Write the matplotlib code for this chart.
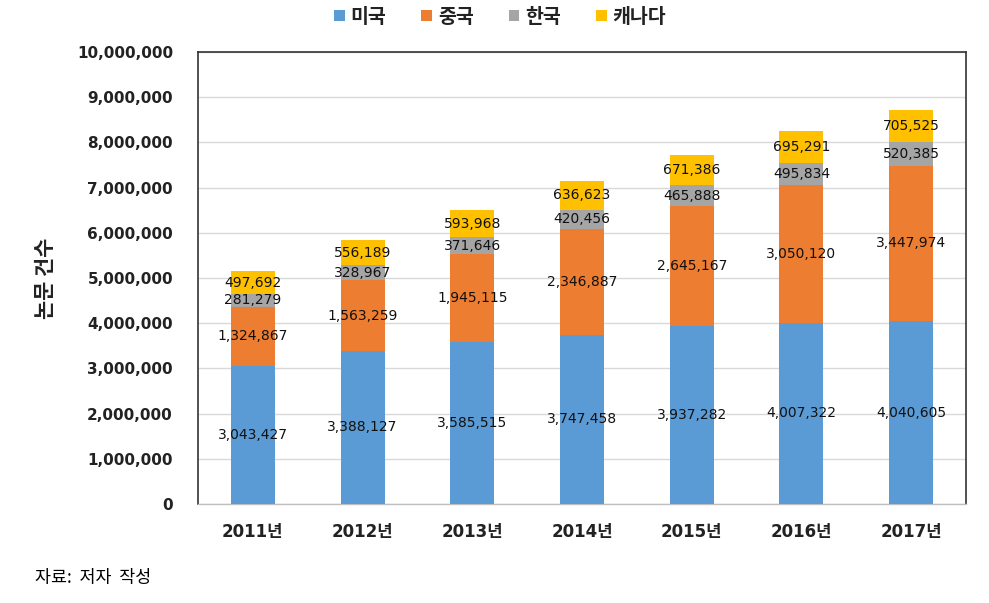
import matplotlib
matplotlib.use("Agg")
import matplotlib.pyplot as plt
import numpy as np

plt.rcParams['font.family'] = ['Noto Sans CJK KR', 'DejaVu Sans']
NUM_FONT = ['DejaVu Sans', 'Noto Sans CJK KR']

years = ['2011년', '2012년', '2013년', '2014년', '2015년', '2016년', '2017년']
series_names = ['미국', '중국', '한국', '캐나다']
usa = [3043427, 3388127, 3585515, 3747458, 3937282, 4007322, 4040605]
china = [1324867, 1563259, 1945115, 2346887, 2645167, 3050120, 3447974]
korea = [281279, 328967, 371646, 420456, 465888, 495834, 520385]
canada = [497692, 556189, 593968, 636623, 671386, 695291, 705525]
colors = ['#5B9BD5', '#ED7D31', '#A5A5A5', '#FFC000']

fig = plt.figure(figsize=(9.89, 6.03), dpi=100)
ax = fig.add_axes([198/989, 1 - 504/603, (966-198)/989, (504-52)/603])

x = np.arange(len(years))
bottom = np.zeros(len(years))
for name, vals, c in zip(series_names, [usa, china, korea, canada], colors):
    vals = np.array(vals, dtype=float)
    ax.bar(x, vals, 0.4, bottom=bottom, color=c, label=name, zorder=3)
    for xi, b, v in zip(x, bottom, vals):
        ax.text(xi, b + v / 2, f'{int(v):,}', ha='center', va='center',
                fontsize=10, color='#111111', zorder=4, family=NUM_FONT)
    bottom += vals

ax.set_xlim(-0.5, len(years) - 0.5)
ax.set_ylim(0, 10000000)
ax.set_yticks(np.arange(0, 10000001, 1000000))
ax.set_yticklabels([f'{v:,}' for v in range(0, 10000001, 1000000)],
                   fontsize=11, fontweight='bold', family=NUM_FONT, color='#222222')
ax.set_xticks(x)
ax.set_xticklabels(years, fontsize=12, fontweight='bold', family=NUM_FONT, color='#222222')
ax.tick_params(axis='both', length=0)
ax.tick_params(axis='y', pad=18)
ax.tick_params(axis='x', pad=14)
ax.yaxis.grid(True, color='#D9D9D9', linewidth=1, zorder=0)
ax.set_axisbelow(True)
for s in ['left', 'right', 'top']:
    ax.spines[s].set_color('#333333')
    ax.spines[s].set_linewidth(1.2)
ax.spines['bottom'].set_color('#BFBFBF')
ax.spines['bottom'].set_linewidth(1)

fig.text(45/989, 1 - 278/603, '논문 건수', rotation=90, ha='center', va='center',
         fontsize=15, fontweight='bold', color='#222222')

fig.legend(loc='center', bbox_to_anchor=(500/989, 1 - 17/603), ncol=4, frameon=False,
           prop={'size': 14, 'weight': 'bold'}, handlelength=0.55, handleheight=0.55,
           handletextpad=0.3, columnspacing=1.8, labelcolor='#222222')

fig.text(35/989, 1 - 578/603, '자료:  저자  작성', ha='left', va='center', fontsize=12.5)

fig.savefig('out.png', dpi=100)
